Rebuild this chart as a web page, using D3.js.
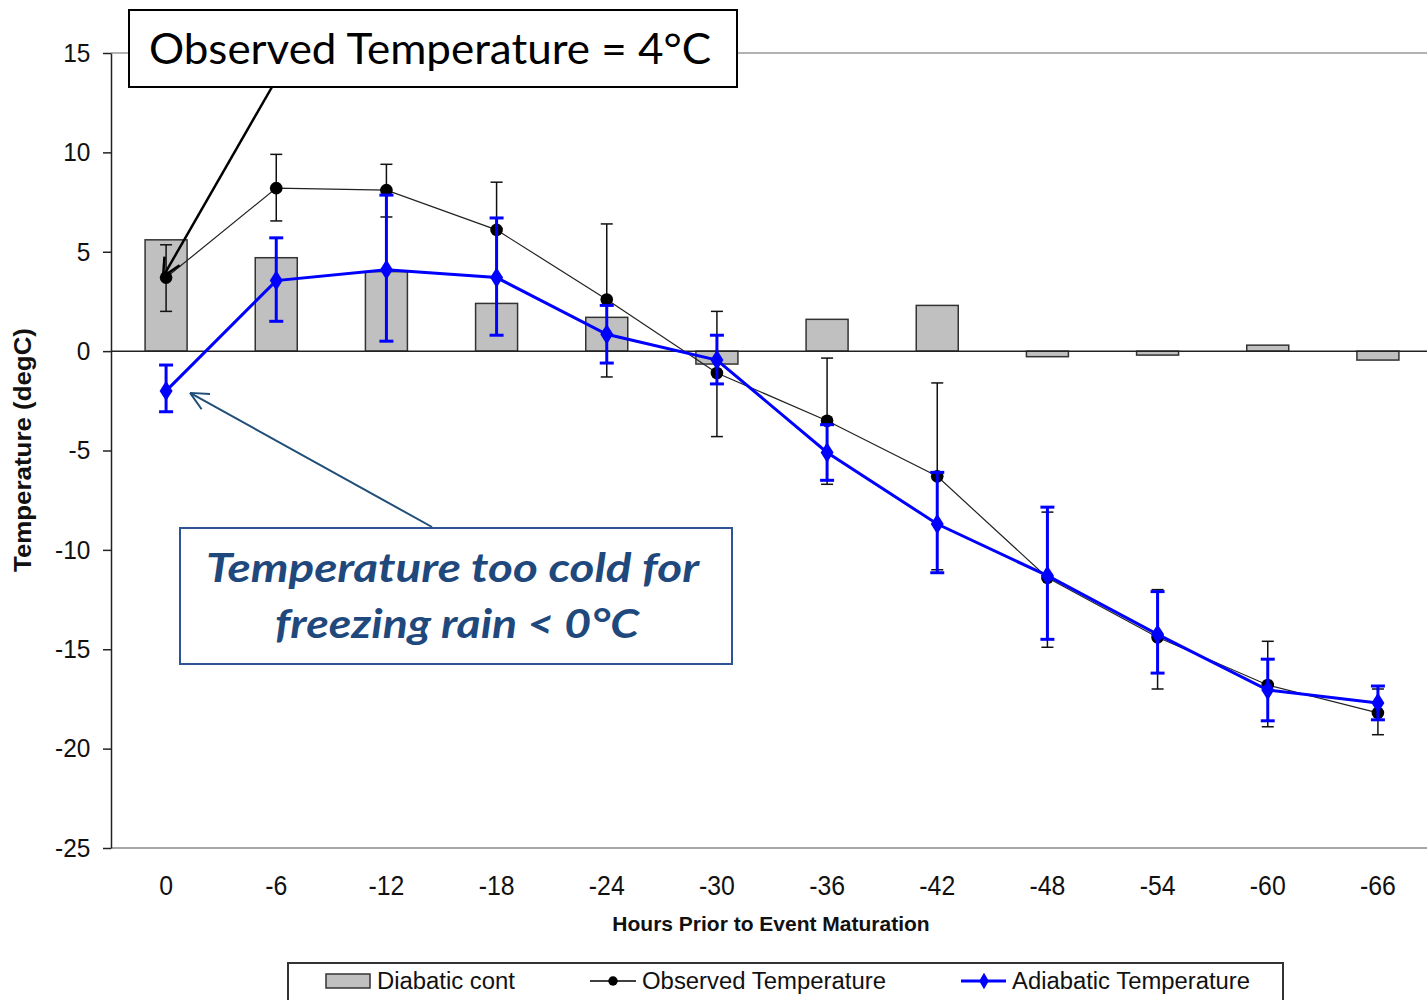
<!DOCTYPE html>
<html>
<head>
<meta charset="utf-8">
<script src="https://cdn.jsdelivr.net/npm/d3@7"></script>
<style>
    body { margin: 0; background: #fff; }
    svg { display: block; }
</style>
</head>
<body>
<div id="chart"></div>
<script>
// data
const hours = ["0", "-6", "-12", "-18", "-24", "-30", "-36", "-42", "-48", "-54", "-60", "-66"];
const diabatic = [5.6, 4.7, 4.0, 2.4, 1.7, -0.65, 1.6, 2.3, -0.28, -0.2, 0.3, -0.45];
const observed = [3.7, 8.2, 8.1, 6.1, 2.6, -1.1, -3.5, -6.3, -11.4, -14.4, -16.8, -18.2];
const observedHigh = [5.35, 9.9, 9.4, 8.5, 6.4, 2.0, -0.35, -1.6, -8.1, -12.0, -14.6, -17.0];
const observedLow = [2.0, 6.55, 6.75, 3.7, -1.3, -4.3, -6.7, -11.0, -14.9, -17.0, -18.9, -19.3];
const adiabatic = [-2.0, 3.55, 4.1, 3.7, 0.85, -0.45, -5.1, -8.7, -11.3, -14.25, -17.05, -17.7];
const adiabaticHigh = [-0.7, 5.7, 7.85, 6.7, 2.3, 0.8, -3.7, -6.1, -7.85, -12.1, -15.5, -16.85];
const adiabaticLow = [-3.05, 1.5, 0.5, 0.8, -0.6, -1.65, -6.5, -11.15, -14.5, -16.2, -18.6, -18.55];
const yTicks = [15, 10, 5, 0, -5, -10, -15, -20, -25];

const width = 1427, height = 1000;
const margin = { left: 111, right: 1433, top: 53, bottom: 848 };

const svg = d3.select("#chart").append("svg")
    .attr("width", width)
    .attr("height", height);

const x = d3.scaleBand()
    .domain(hours)
    .range([margin.left, margin.right])
    .padding(0);

const y = d3.scaleLinear()
    .domain([-25, 15])
    .range([margin.bottom, margin.top]);

const cx = h => x(h) + x.bandwidth() / 2;
const axisFont = "'Liberation Sans', Arial, sans-serif";

// frame lines (top border and bottom axis are grey)
svg.append("line")
    .attr("x1", margin.left).attr("x2", width)
    .attr("y1", y(15)).attr("y2", y(15))
    .attr("stroke", "#999").attr("stroke-width", 1.5);
svg.append("line")
    .attr("x1", margin.left).attr("x2", width)
    .attr("y1", y(-25)).attr("y2", y(-25))
    .attr("stroke", "#888").attr("stroke-width", 1.5);

// bars
const barW = 42;
svg.selectAll(".bar")
    .data(diabatic)
    .enter()
    .append("rect")
    .attr("class", "bar")
    .attr("x", (d, i) => cx(hours[i]) - barW / 2)
    .attr("y", d => y(Math.max(0, d)))
    .attr("width", barW)
    .attr("height", d => Math.abs(y(d) - y(0)))
    .attr("fill", "#c0c0c0")
    .attr("stroke", "#333")
    .attr("stroke-width", 1.5);

// zero line
svg.append("line")
    .attr("x1", margin.left).attr("x2", width)
    .attr("y1", y(0)).attr("y2", y(0))
    .attr("stroke", "#222").attr("stroke-width", 1.5);

// y axis (plain hyphen for negatives, like the original)
const yAxis = svg.append("g")
    .attr("transform", `translate(${margin.left},0)`)
    .call(d3.axisLeft(y).tickValues(yTicks).tickFormat(d => String(d))
        .tickSize(8).tickSizeOuter(0).tickPadding(14));
yAxis.select(".domain").attr("stroke", "#222").attr("stroke-width", 1.5);
yAxis.selectAll(".tick line").attr("stroke", "#222").attr("stroke-width", 1.5);
yAxis.selectAll("text")
    .attr("font-family", axisFont)
    .attr("font-size", 26)
    .attr("fill", "#111")
    .attr("transform", "scale(0.94,1)");

// x axis labels
const xAxis = svg.append("g")
    .attr("transform", `translate(0,${margin.bottom})`)
    .call(d3.axisBottom(x).tickSize(0).tickPadding(28));
xAxis.select(".domain").remove();
xAxis.selectAll("text")
    .attr("font-family", axisFont)
    .attr("font-size", 27)
    .attr("fill", "#111")
    .attr("transform", "scale(0.92,1)");

// axis titles
svg.append("text")
    .attr("x", 771).attr("y", 931)
    .attr("text-anchor", "middle")
    .attr("font-family", axisFont)
    .attr("font-weight", "bold")
    .attr("font-size", 21)
    .attr("fill", "#111")
    .text("Hours Prior to Event Maturation");

svg.append("text")
    .attr("transform", "translate(31,450) rotate(-90)")
    .attr("text-anchor", "middle")
    .attr("font-family", axisFont)
    .attr("font-weight", "bold")
    .attr("font-size", 24)
    .attr("textLength", 244)
    .attr("lengthAdjust", "spacingAndGlyphs")
    .attr("fill", "#111")
    .text("Temperature (degC)");

// error bars helper
function errorBars(cls, vals, lo, hi, color, w, cap) {
    const g = svg.append("g").attr("class", cls);
    vals.forEach((v, i) => {
        const px = cx(hours[i]);
        g.append("line")
            .attr("x1", px).attr("x2", px)
            .attr("y1", y(hi[i])).attr("y2", y(lo[i]))
            .attr("stroke", color).attr("stroke-width", w);
        [lo[i], hi[i]].forEach(e => {
            g.append("line")
                .attr("x1", px - cap).attr("x2", px + cap)
                .attr("y1", y(e)).attr("y2", y(e))
                .attr("stroke", color).attr("stroke-width", w);
        });
    });
}

const line = d3.line()
    .x((d, i) => cx(hours[i]))
    .y(d => y(d));

// observed temperature
errorBars("obs-err", observed, observedLow, observedHigh, "#111", 1.5, 6);
svg.append("path")
    .datum(observed)
    .attr("d", line)
    .attr("fill", "none")
    .attr("stroke", "#222")
    .attr("stroke-width", 1.2);
svg.selectAll(".obs-pt")
    .data(observed)
    .enter()
    .append("path")
    .attr("class", "obs-pt")
    .attr("d", d3.symbol().type(d3.symbolCircle).size(125))
    .attr("transform", (d, i) => `translate(${cx(hours[i])},${y(d)})`)
    .attr("fill", "#000");

// adiabatic temperature
errorBars("adia-err", adiabatic, adiabaticLow, adiabaticHigh, "#0000ff", 3, 7);
svg.append("path")
    .datum(adiabatic)
    .attr("d", line)
    .attr("fill", "none")
    .attr("stroke", "#0000ff")
    .attr("stroke-width", 3);
svg.selectAll(".adia-pt")
    .data(adiabatic)
    .enter()
    .append("path")
    .attr("class", "adia-pt")
    .attr("d", d3.symbol().type(d3.symbolDiamond).size(120))
    .attr("transform", (d, i) => `translate(${cx(hours[i])},${y(d)}) scale(1.1,1)`)
    .attr("fill", "#0000ff");

// arrows
function arrow(x1, y1, x2, y2, color, w, head) {
    const a = Math.atan2(y2 - y1, x2 - x1);
    const g = svg.append("g").attr("stroke", color).attr("stroke-width", w).attr("fill", "none");
    g.append("line").attr("x1", x1).attr("y1", y1).attr("x2", x2).attr("y2", y2);
    [-0.45, 0.45].forEach(s => {
        g.append("line")
            .attr("x1", x2).attr("y1", y2)
            .attr("x2", x2 - head * Math.cos(a + s))
            .attr("y2", y2 - head * Math.sin(a + s));
    });
}

arrow(272, 87, cx("0") - 3, y(observed[0]) - 1, "#000", 2.5, 20);
arrow(432, 527, cx("0") + 24, y(adiabatic[0]) + 2, "#1f4e79", 2, 20);

// annotation: observed temperature
svg.append("rect")
    .attr("x", 129).attr("y", 10)
    .attr("width", 608).attr("height", 77)
    .attr("fill", "#fff")
    .attr("stroke", "#000")
    .attr("stroke-width", 2);
svg.append("text")
    .attr("x", 149).attr("y", 64)
    .attr("font-family", "Lato, 'Open Sans', sans-serif")
    .attr("font-size", 43)
    .attr("textLength", 562)
    .attr("lengthAdjust", "spacingAndGlyphs")
    .attr("fill", "#000")
    .text("Observed Temperature = 4°C");

// annotation: too cold
svg.append("rect")
    .attr("x", 180).attr("y", 528)
    .attr("width", 552).attr("height", 136)
    .attr("fill", "#fff")
    .attr("stroke", "#2f5496")
    .attr("stroke-width", 2);
const noteLines = [
    { t: "Temperature too cold for", x: 206, y: 582, len: 493 },
    { t: "freezing rain < 0°C", x: 275, y: 638, len: 364 }
];
svg.selectAll(".note")
    .data(noteLines)
    .enter()
    .append("text")
    .attr("class", "note")
    .attr("x", d => d.x).attr("y", d => d.y)
    .attr("font-family", "Lato, 'Open Sans', sans-serif")
    .attr("font-weight", "bold")
    .attr("font-style", "italic")
    .attr("font-size", 41)
    .attr("textLength", d => d.len)
    .attr("lengthAdjust", "spacingAndGlyphs")
    .attr("fill", "#1f497d")
    .text(d => d.t);

// legend
svg.append("rect")
    .attr("x", 288).attr("y", 963)
    .attr("width", 995).attr("height", 60)
    .attr("fill", "#fff")
    .attr("stroke", "#333")
    .attr("stroke-width", 2);
const legend = svg.append("g");
legend.append("rect")
    .attr("x", 326).attr("y", 974)
    .attr("width", 44).attr("height", 14)
    .attr("fill", "#c0c0c0").attr("stroke", "#333").attr("stroke-width", 1.5);
legend.append("line")
    .attr("x1", 590).attr("x2", 636).attr("y1", 981).attr("y2", 981)
    .attr("stroke", "#000").attr("stroke-width", 1.5);
legend.append("path")
    .attr("d", d3.symbol().type(d3.symbolCircle).size(70))
    .attr("transform", "translate(613,981)")
    .attr("fill", "#000");
legend.append("line")
    .attr("x1", 961).attr("x2", 1006).attr("y1", 981).attr("y2", 981)
    .attr("stroke", "#0000ff").attr("stroke-width", 3);
legend.append("path")
    .attr("d", d3.symbol().type(d3.symbolDiamond).size(80))
    .attr("transform", "translate(984,981)")
    .attr("fill", "#0000ff");
const legendText = [
    { t: "Diabatic cont", x: 377, len: 138 },
    { t: "Observed Temperature", x: 642, len: 244 },
    { t: "Adiabatic Temperature", x: 1012, len: 238 }
];
legend.selectAll("text")
    .data(legendText)
    .enter()
    .append("text")
    .attr("x", d => d.x).attr("y", 989)
    .attr("font-family", axisFont)
    .attr("font-size", 23)
    .attr("textLength", d => d.len)
    .attr("lengthAdjust", "spacingAndGlyphs")
    .attr("fill", "#111")
    .text(d => d.t);
</script>
</body>
</html>
